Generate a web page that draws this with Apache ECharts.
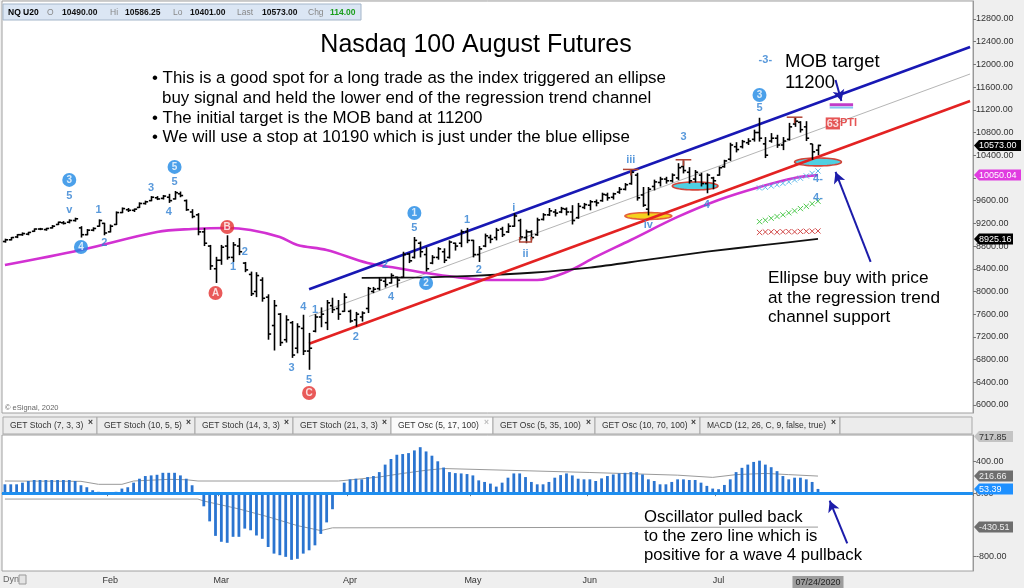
<!DOCTYPE html>
<html><head><meta charset="utf-8">
<script src="https://cdn.jsdelivr.net/npm/echarts@6/dist/echarts.min.js"></script>
<style>html,body{margin:0;padding:0;background:#efefef;}#c{width:1024px;height:588px;}</style>
</head><body><div id="c"></div>
<script>
// ---------- data ----------
const holidays = ['2020-01-20','2020-02-17','2020-04-10','2020-05-25','2020-09-07'];
function buildTradingDays(n){
  const out=[]; const d=new Date(Date.UTC(2020,0,7));
  while(out.length<n){
    const wd=d.getUTCDay(); const s=d.toISOString().slice(0,10);
    if(wd!==0&&wd!==6&&holidays.indexOf(s)<0) out.push(s);
    d.setUTCDate(d.getUTCDate()+1);
  }
  return out;
}
const dates = buildTradingDays(166);   // 140 traded sessions + empty future slots
const lastIndex = 139;

// [open, high, low, close]
const ohlc = [
[8880,8930,8860,8910],[8910,8960,8900,8950],[8960,9010,8940,9000],[9000,9040,8980,9020],[9010,9050,8990,9040],
[9060,9110,9050,9100],[9100,9120,9080,9100],[9090,9120,9070,9110],[9120,9170,9110,9150],[9180,9230,9170,9220],
[9210,9240,9180,9200],[9220,9270,9200,9250],[9250,9300,9230,9280],[9120,9150,8950,9000],[9000,9100,8990,9080],
[9080,9130,9060,9110],[9150,9270,9140,9250],[9200,9210,8990,9030],[9050,9180,9040,9150],[9180,9410,9170,9390],
[9390,9480,9380,9460],[9440,9470,9400,9430],[9430,9460,9400,9450],[9480,9570,9470,9550],[9550,9600,9530,9580],
[9600,9680,9590,9660],[9650,9680,9610,9630],[9640,9700,9620,9680],[9660,9720,9560,9600],[9630,9770,9620,9740],
[9720,9760,9660,9690],[9600,9620,9420,9440],[9400,9450,9290,9320],[9350,9380,8990,9050],[9050,9120,8800,8850],
[8800,8820,8380,8450],[8400,8610,8150,8550],[8550,8820,8470,8780],[8800,8990,8560,8600],[8600,8870,8520,8820],
[8800,8940,8640,8700],[8500,8520,8340,8380],[8300,8350,7920,7960],[8000,8340,7900,8280],[8200,8250,7820,7880],
[7900,7950,7150,7250],[7400,7850,6960,7750],[7600,7620,7040,7100],[7150,7580,7100,7500],[7450,7480,6830,6880],
[7000,7440,6910,7380],[7350,7590,6880,6950],[6950,7270,6620,7000],[7300,7600,7280,7550],[7550,7720,7370,7600],
[7450,7850,7320,7800],[7750,7890,7620,7680],[7700,7850,7500,7600],[7650,7970,7640,7900],[7650,7680,7450,7480],
[7500,7640,7380,7600],[7550,7650,7470,7620],[7700,8080,7620,8050],[8000,8080,7970,8040],[8050,8250,8020,8200],
[8180,8250,8070,8120],[8150,8320,8140,8280],[8250,8260,8070,8200],[8250,8700,8240,8650],[8660,8680,8500,8540],
[8600,8960,8580,8900],[8850,8880,8600,8700],[8650,8780,8350,8400],[8500,8640,8480,8600],[8600,8780,8560,8750],
[8700,8760,8500,8550],[8600,8900,8580,8870],[8850,8860,8720,8800],[8850,9090,8780,9050],[9050,9120,8850,8900],
[8900,8910,8600,8650],[8650,8800,8520,8750],[8800,9020,8780,8980],[8950,9000,8850,8920],[8950,9120,8900,9080],
[9100,9140,8960,9000],[9050,9200,9030,9150],[9150,9380,9140,9330],[9250,9280,8910,8960],[8950,9090,8850,9050],
[9050,9080,8900,8950],[9000,9300,8980,9260],[9270,9380,9250,9350],[9350,9470,9330,9420],[9400,9450,9320,9380],
[9400,9490,9380,9460],[9450,9480,9340,9400],[9400,9520,9180,9250],[9300,9560,9280,9500],[9480,9560,9450,9530],
[9520,9610,9430,9580],[9580,9620,9500,9560],[9600,9740,9580,9710],[9700,9740,9600,9650],[9660,9740,9620,9720],
[9750,9840,9720,9800],[9800,9910,9780,9880],[9900,10140,9880,10100],[10050,10090,9600,9650],[9700,9840,9490,9520],
[9450,9840,9340,9800],[9850,9970,9780,9930],[9920,10020,9850,9980],[9980,10020,9900,9950],[9950,10080,9920,10050],
[10000,10260,9960,10180],[10200,10310,10080,10130],[10100,10190,9900,9950],[9980,10140,9920,10100],[10050,10090,9850,9900],
[9900,10080,9730,10050],[10000,10020,9800,9950],[10050,10200,10040,10180],[10200,10320,10180,10300],[10330,10620,10300,10580],
[10550,10630,10450,10500],[10550,10670,10520,10640],[10620,10700,10580,10650],[10680,10850,10640,10800],[10800,11060,10640,10700],
[10600,10720,10350,10400],[10650,10790,10620,10700],[10700,10760,10530,10580],[10580,10720,10490,10650],[10680,10970,10660,10900],
[10950,11060,10900,11000],[10980,11000,10800,10850],[10900,11000,10650,10700],[10600,10600,10320,10460],[10490,10586.25,10401,10573]
];

const oscValues = [112,112,112,133,154,167,167,167,167,167,167,167,154,100,75,37,17,5,3,17,58,75,
133,183,217,225,233,258,258,258,225,183,100,0,
-167,-358,-542,-617,-630,-554,-554,-450,-471,-537,-579,-683,-767,-787,-808,-846,-833,-767,-725,-662,-517,-371,-204,0,
133,175,183,175,204,217,267,362,433,487,496,508,542,583,529,475,404,325,267,254,
250,242,225,162,142,121,83,133,196,250,250,204,142,112,112,142,196,229,250,225,183,175,175,154,187,217,237,250,258,267,
267,237,175,154,112,112,142,175,175,167,167,133,92,58,50,104,175,267,321,362,396,412,362,329,279,217,175,196,196,175,142,53.39];
const oscUpper = [[0,154],[13,150],[16,112],[20,112],[22,154],[28,175],[31,170],[33,154],[57,154],[60,175],[64,205],[68,250],
[72,290],[75,312],[86,290],[100,262],[115,228],[121,200],[125,235],[130,250],[134,235],[139,216.66]];
const oscLower = [[0,-75],[33,-75],[34,-100],[40,-200],[45,-300],[50,-412],[54,-475],[56,-440],[139,-430.51]];

const maMagenta = [[0,8467],[13,8731],[26,9048],[32,9101],[38,9119],[42,9083],[47,8960],[50,8819],[55,8731],[62,8502],
[67,8414],[72,8326],[77,8255],[83,8202],[91,8203],[96,8343],[101,8608],[107,8907],[115,9313],[122,9612],[129,9841],[135,10000],[139,10050.04]];
const maBlack = [[61,8240],[72,8250],[80,8275],[90,8330],[100,8420],[110,8560],[120,8700],[130,8820],[139,8925.16]];
const channelUpper = [[52,8040],[165,12306]];
const channelMid = [[52,7560],[165,11831]];
const channelLower = [[52,7080],[165,11356]];

const priceTicks = [6000,6400,6800,7200,7600,8000,8400,8800,9200,9600,10000,10400,10800,11200,11600,12000,12400,12800];
const priceTickLabels = [6000,6400,6800,7200,7600,8000,8400,8800,9200,9600,10400,10800,11200,11600,12000,12400,12800];
const oscTicks = [400,0,-800];
// [value, text, background, text colour, width]
const priceTags = [[10573,'10573.00','#000','#fff',47],[10050.04,'10050.04','#e03ce0','#fff',47],[8925.16,'8925.16','#000','#fff',39]];
const oscTags = [[717.85,'717.85','#c4c4c4','#333',39],[216.66,'216.66','#6e6e6e','#eee',39],[53.39,'53.39','#1e90ff','#fff',39],[-430.51,'-430.51','#6e6e6e','#eee',39]];

// annotations in data space
const ellipses = [[110,9330,4.0,60,1],[118,9859,3.9,70,0],[139,10282,4.0,70,0]]; // idx, price, rx(bars), ry(points), kind
const projCyan  = [9823,9835,9858,9880,9905,9930,9965,9995,10035,10080,10123];
const projGreen = [9230,9255,9290,9320,9350,9385,9420,9460,9500,9545,9590];
const projRed   = [9040,9048,9050,9045,9052,9055,9050,9058,9060,9062,9066];
const projStart = 129;
const tMarks = [[106,108,10150,0],[115,117,10320,0],[134,136,11070,0],[88,90,8870,1]];
const waveText = [['5',11,9683],['v',11,9436],['1',16,9436],['2',17,8854],['3',25,9824],['4',28,9401],['5',29,9929],
['1',39,8432],['2',41,8696],['3',49,6652],['4',51,7727],['5',52,6441],['1',53,7674],['2',60,7198],
['2',65,8467],['4',66,7903],['5',70,9119],['1',79,9260],['2',81,8379],['i',87,9471],['ii',89,8661],
['iii',107,10317],['iv',110,9172],['3',116,10722],['4',120,9524],['5',129,11233],['-3-',130,12079],['4-',139,9990],['4-',139,9650]];
const waveBlue = [['3',11,9965],['4',13,8784],['5',29,10194],['1',70,9383],['2',72,8150],['3',129,11462]];
const waveRed = [['A',36,7973],['B',38,9136],['C',52,6211]];

const FONT = '"Liberation Sans", Arial, sans-serif';

// ---------- renderers ----------
function renderBar(params, api){
  const i = api.value(0);
  const o = api.coord([i, api.value(1)]), h = api.coord([i, api.value(2)]);
  const l = api.coord([i, api.value(3)]), c = api.coord([i, api.value(4)]);
  const w = api.size([1,0])[0]*0.45;
  const x = Math.round(h[0]) + 0.5;
  const st = {stroke:'#000', lineWidth:1.6};
  return {type:'group', children:[
    {type:'line', shape:{x1:x,y1:h[1],x2:x,y2:l[1]}, style:st},
    {type:'line', shape:{x1:x-w,y1:o[1],x2:x,y2:o[1]}, style:st},
    {type:'line', shape:{x1:x,y1:c[1],x2:x+w,y2:c[1]}, style:st}
  ]};
}
function renderEllipse(params, api){
  const c = api.coord([api.value(0), api.value(1)]);
  const rx = api.size([1,0])[0]*api.value(2);
  const top = api.coord([api.value(0), api.value(1)+api.value(3)]);
  const ry = Math.abs(c[1]-top[1]);
  const pts=[];
  for(let k=0;k<48;k++){const t=k/48*Math.PI*2; pts.push([c[0]+rx*Math.cos(t), c[1]+ry*Math.sin(t)]);}
  const y = api.value(4)===1;
  return {type:'polygon', shape:{points:pts}, style:{fill:y?'#f4d21c':'#4fd0e2', stroke:y?'#e5603a':'#d2453a', lineWidth:1.6}};
}
const xColors = ['#5cb8ea','#4cc94c','#d24a4a'];
function renderX(params, api){
  const p = api.coord([api.value(0), api.value(1)]); const s=2.6; const col=xColors[api.value(2)];
  return {type:'group', children:[
    {type:'line', shape:{x1:p[0]-s,y1:p[1]-s,x2:p[0]+s,y2:p[1]+s}, style:{stroke:col,lineWidth:1}},
    {type:'line', shape:{x1:p[0]-s,y1:p[1]+s,x2:p[0]+s,y2:p[1]-s}, style:{stroke:col,lineWidth:1}}
  ]};
}
function renderT(params, api){
  const a = api.coord([api.value(0), api.value(2)]), b = api.coord([api.value(1), api.value(2)]);
  const st = {stroke:'#b04434', lineWidth:1.5};
  const mid = (a[0]+b[0])/2;
  if(api.value(3)===1){
    return {type:'polyline', shape:{points:[[a[0],a[1]-5],[a[0],a[1]],[b[0],b[1]],[b[0],b[1]-5]]}, style:Object.assign({fill:'none'},st)};
  }
  return {type:'group', children:[
    {type:'line', shape:{x1:a[0]-2,y1:a[1],x2:b[0]+2,y2:b[1]}, style:st},
    {type:'line', shape:{x1:mid,y1:a[1],x2:mid,y2:a[1]+6}, style:st}
  ]};
}
function makeTagRenderer(list){
  return function(params, api){
    const t = list[api.value(0)];
    const cs = params.coordSys;
    const y = api.coord([0, api.value(1)])[1];
    const x0 = cs.x + cs.width + 1;
    const w = t[4], h = 11;
    return {type:'group', children:[
      {type:'polygon', shape:{points:[[x0,y],[x0+5,y-h/2],[x0+w,y-h/2],[x0+w,y+h/2],[x0+5,y+h/2]]}, style:{fill:t[2]}},
      {type:'text', x:x0+5, y:y+0.5, style:{text:t[1], fill:t[3], font:'9px '+FONT, verticalAlign:'middle'}}
    ]};
  };
}

const barData = ohlc.map((r,i)=>[i].concat(r));
const xData = [];
[projCyan, projGreen, projRed].forEach((arr,k)=>arr.forEach((v,j)=>xData.push([projStart+j, v, k])));

// ---------- chart ----------
const chart = echarts.init(document.getElementById('c'), null, {renderer:'canvas'});
const tabs = [['GET Stoch (7, 3, 3)',3,97],['GET Stoch (10, 5, 5)',97,195],['GET Stoch (14, 3, 3)',195,293],
['GET Stoch (21, 3, 3)',293,391],['GET Osc (5, 17, 100)',391,493],['GET Osc (5, 35, 100)',493,595],
['GET Osc (10, 70, 100)',595,700],['MACD (12, 26, C, 9, false, true)',700,840]];
const graphics = [];
graphics.push({type:'rect', shape:{x:0,y:414,width:973,height:21}, style:{fill:'#efefef'}, z:-5});
tabs.forEach((t,k)=>{
  const active = k===4;
  graphics.push({type:'rect', shape:{x:t[1],y:417,width:t[2]-t[1],height:17}, style:{fill:active?'#fbfbfb':'#ececec', stroke:'#a9a9a9', lineWidth:1}});
  graphics.push({type:'text', x:t[1]+7, y:426, style:{text:t[0], fill:'#333', font:'8.5px '+FONT, verticalAlign:'middle'}});
  graphics.push({type:'text', x:t[2]-9, y:423, style:{text:'×', fill:active?'#bbb':'#333', font:'bold 8.5px '+FONT, verticalAlign:'middle'}});
});
graphics.push({type:'rect', shape:{x:840,y:417,width:132,height:17}, style:{fill:'#ececec', stroke:'#a9a9a9', lineWidth:1}});
// header
graphics.push({type:'rect', shape:{x:3,y:4,width:358,height:16}, style:{fill:'#dbe6f4', stroke:'#a3b5c9', lineWidth:1}});
const hdr = [['NQ U20',8,'#000',true],['O',47,'#888',false],['10490.00',62,'#111',true],['Hi',110,'#888',false],
['10586.25',125,'#111',true],['Lo',173,'#888',false],['10401.00',190,'#111',true],['Last',237,'#888',false],
['10573.00',262,'#111',true],['Chg',308,'#888',false],['114.00',330,'#1b9e1b',true]];
hdr.forEach(h=>graphics.push({type:'text', x:h[1], y:12.5, style:{text:h[0], fill:h[2], font:(h[3]?'bold ':'')+'8.5px '+FONT, verticalAlign:'middle'}}));
// titles & notes
graphics.push({type:'text', x:476, y:45, style:{text:'Nasdaq 100 August Futures', fill:'#000', font:'25px '+FONT, align:'center', verticalAlign:'middle'}});
const bullets = [['• This is a good spot for a long trade as the index triggered an ellipse',152,78],
['buy signal and held the lower end of the regression trend channel',162,98],
['• The initial target is the MOB band at 11200',152,118],
['• We will use a stop at 10190 which is just under the blue ellipse',152,137]];
bullets.forEach(b=>graphics.push({type:'text', x:b[1], y:b[2], style:{text:b[0], fill:'#000', font:'16.9px '+FONT, verticalAlign:'middle'}}));
graphics.push({type:'text', x:785, y:62, style:{text:'MOB target', fill:'#000', font:'18.5px '+FONT, verticalAlign:'middle'}});
graphics.push({type:'text', x:785, y:83, style:{text:'11200', fill:'#000', font:'18.5px '+FONT, verticalAlign:'middle'}});
[['Ellipse buy with price',278],['at the regression trend',298],['channel support',317]].forEach(t=>
  graphics.push({type:'text', x:768, y:t[1], style:{text:t[0], fill:'#000', font:'17.2px '+FONT, verticalAlign:'middle'}}));
[['Oscillator pulled back',517],['to the zero line which is',536],['positive for a wave 4 pullback',555]].forEach(t=>
  graphics.push({type:'text', x:644, y:t[1], style:{text:t[0], fill:'#000', font:'16.7px '+FONT, verticalAlign:'middle'}}));
graphics.push({type:'text', x:5, y:408, style:{text:'© eSignal, 2020', fill:'#666', font:'7.5px '+FONT, verticalAlign:'middle'}});
graphics.push({type:'text', x:3, y:580, style:{text:'Dyn', fill:'#666', font:'9px '+FONT, verticalAlign:'middle'}});
graphics.push({type:'rect', shape:{x:19,y:575,width:7,height:9}, style:{fill:'#e4e4e4', stroke:'#999', lineWidth:1}});

const monthNames = ['Jan','Feb','Mar','Apr','May','Jun','Jul','Aug','Sep'];
function isMonthStart(i){ return i>0 && i<=lastIndex && dates[i].slice(5,7)!==dates[i-1].slice(5,7); }

function labelScatter(list, size, color, fontColor, fontSize){
  return {type:'scatter', xAxisIndex:0, yAxisIndex:0, symbol:'circle', symbolSize:size, z:6,
    itemStyle:{color:color}, silent:true,
    label:{show:true, position:'inside', formatter:'{b}', color:fontColor, fontSize:fontSize, fontWeight:'bold', fontFamily:FONT},
    data:list.map(w=>({name:w[0], value:[w[1], w[2]]}))};
}

const option = {
  animation:false,
  backgroundColor:'#efefef',
  textStyle:{fontFamily:FONT},
  grid:[
    {left:2, right:51, top:1, height:412, show:true, backgroundColor:'#fff', borderColor:'#a0a0a0', borderWidth:1},
    {left:2, right:51, top:435, height:138, show:true, backgroundColor:'#fff', borderColor:'#a0a0a0', borderWidth:1}
  ],
  xAxis:[
    {type:'category', gridIndex:0, data:dates, boundaryGap:true, show:false},
    {type:'category', gridIndex:1, data:dates, boundaryGap:true,
      axisLine:{show:true, lineStyle:{color:'#999'}},
      axisTick:{show:true, length:3, interval:(i)=>isMonthStart(i), lineStyle:{color:'#777'}},
      axisLabel:{show:true, interval:(i)=>isMonthStart(i)||i===lastIndex, fontSize:9, color:'#333', margin:5,
        formatter:(v,i)=> i===lastIndex ? '{d|07/24/2020}' : monthNames[parseInt(v.slice(5,7),10)-1],
        rich:{d:{backgroundColor:'#9d9d9d', color:'#222', padding:[2,3,1,3], fontSize:9}}},
      splitLine:{show:false}}
  ],
  yAxis:[
    {type:'value', gridIndex:0, position:'right', min:5859, max:13117, splitLine:{show:false},
      axisLine:{show:true, lineStyle:{color:'#999'}},
      axisTick:{show:true, length:3, customValues:priceTicks, lineStyle:{color:'#777'}},
      axisLabel:{customValues:priceTickLabels, formatter:v=>v.toFixed(2), fontSize:9, color:'#333', margin:3}},
    {type:'value', gridIndex:1, position:'right', min:-987.5, max:737.5, splitLine:{show:false},
      axisLine:{show:true, lineStyle:{color:'#999'}},
      axisTick:{show:true, length:3, customValues:oscTicks, lineStyle:{color:'#777'}},
      axisLabel:{customValues:oscTicks, formatter:v=>v.toFixed(2), fontSize:9, color:'#333', margin:3}}
  ],
  graphic:graphics,
  series:[
    {type:'custom', name:'ellipses', xAxisIndex:0, yAxisIndex:0, renderItem:renderEllipse, data:ellipses, z:2, silent:true,
      encode:{x:0,y:1}},
    {type:'line', name:'mid', xAxisIndex:0, yAxisIndex:0, data:channelMid, symbol:'none', z:2,
      lineStyle:{color:'#b5b5b5', width:1}},
    {type:'line', name:'magentaMA', xAxisIndex:0, yAxisIndex:0, data:maMagenta, symbol:'none', smooth:0.35, z:3,
      lineStyle:{color:'#d231d2', width:2.6}},
    {type:'line', name:'blackMA', xAxisIndex:0, yAxisIndex:0, data:maBlack, symbol:'none', smooth:0.3, z:3,
      lineStyle:{color:'#111', width:1.8},
      markLine:{silent:true, symbol:['none','arrow'], symbolSize:[9,11], animation:false,
        lineStyle:{color:'#1c1caa', width:2, type:'solid'}, label:{show:false},
        data:[[{coord:[142,11727]},{coord:[143,11356]}],[{coord:[148,8520]},{coord:[142,10105]}]]}},
    {type:'line', name:'upper', xAxisIndex:0, yAxisIndex:0, data:channelUpper, symbol:'none', z:4,
      lineStyle:{color:'#1818b4', width:2.6}},
    {type:'line', name:'lower', xAxisIndex:0, yAxisIndex:0, data:channelLower, symbol:'none', z:4,
      lineStyle:{color:'#e32222', width:2.6}},
    {type:'line', name:'mobMagenta', xAxisIndex:0, yAxisIndex:0, data:[[141,11290],[145,11290]], symbol:'none', z:4,
      lineStyle:{color:'#c23cc8', width:3}},
    {type:'line', name:'mobBlue', xAxisIndex:0, yAxisIndex:0, data:[[141,11240],[145,11240]], symbol:'none', z:4,
      lineStyle:{color:'#86c6f0', width:2}},
    {type:'custom', name:'proj', xAxisIndex:0, yAxisIndex:0, renderItem:renderX, data:xData, z:4, silent:true, encode:{x:0,y:1}},
    {type:'custom', name:'bars', xAxisIndex:0, yAxisIndex:0, renderItem:renderBar, data:barData, z:5, silent:true,
      encode:{x:0, y:[1,2,3,4]}},
    {type:'custom', name:'tmarks', xAxisIndex:0, yAxisIndex:0, renderItem:renderT, data:tMarks, z:5, silent:true, encode:{x:0,y:2}},
    {type:'scatter', name:'waveText', xAxisIndex:0, yAxisIndex:0, symbolSize:1, z:6, silent:true,
      itemStyle:{color:'rgba(0,0,0,0)'},
      label:{show:true, position:'inside', formatter:'{b}', color:'#2f80d2', fontSize:11, fontWeight:'bold', fontFamily:FONT},
      data:waveText.map(w=>({name:w[0], value:[w[1],w[2]]}))},
    labelScatter(waveBlue, 14, '#1e88e5', '#fff', 10),
    labelScatter(waveRed, 14, '#e3312f', '#fff', 10),
    {type:'scatter', name:'pti', xAxisIndex:0, yAxisIndex:0, symbolSize:1, z:6, silent:true, itemStyle:{color:'rgba(0,0,0,0)'},
      label:{show:true, position:'inside', formatter:'{a|63}{b|PTI}',
        rich:{a:{backgroundColor:'#e02a2a', color:'#fff', padding:[1,1,0,1], fontSize:11, fontWeight:'bold'},
              b:{color:'#e02a2a', fontSize:11, fontWeight:'bold'}}},
      data:[{name:'63PTI', value:[143,10960]}]},
    {type:'custom', name:'priceTags', xAxisIndex:0, yAxisIndex:0, clip:false, z:20, silent:true,
      renderItem:makeTagRenderer(priceTags), data:priceTags.map((t,k)=>[k,t[0]]), encode:{x:0,y:1}},
    // oscillator
    {type:'bar', name:'osc', xAxisIndex:1, yAxisIndex:1, data:oscValues, barWidth:2.8, z:3,
      itemStyle:{color:'#2a74d0'},
      markLine:{silent:true, symbol:'none', animation:false, label:{show:false},
        lineStyle:{color:'#1e8ff0', width:3.2, type:'solid'}, data:[{yAxis:0}]}},
    {type:'line', name:'oscUpper', xAxisIndex:1, yAxisIndex:1, data:oscUpper, symbol:'none', z:2,
      lineStyle:{color:'#9a9a9a', width:1}},
    {type:'line', name:'oscLower', xAxisIndex:1, yAxisIndex:1, data:oscLower, symbol:'none', z:2,
      lineStyle:{color:'#9a9a9a', width:1},
      markLine:{silent:true, symbol:['none','arrow'], symbolSize:[9,11], animation:false,
        lineStyle:{color:'#1c1caa', width:2, type:'solid'}, label:{show:false},
        data:[[{coord:[144,-637]},{coord:[141,-96]}]]}},
    {type:'custom', name:'oscTags', xAxisIndex:1, yAxisIndex:1, clip:false, z:20, silent:true,
      renderItem:makeTagRenderer(oscTags), data:oscTags.map((t,k)=>[k,t[0]]), encode:{x:0,y:1}}
  ]
};
chart.setOption(option);
</script></body></html>
